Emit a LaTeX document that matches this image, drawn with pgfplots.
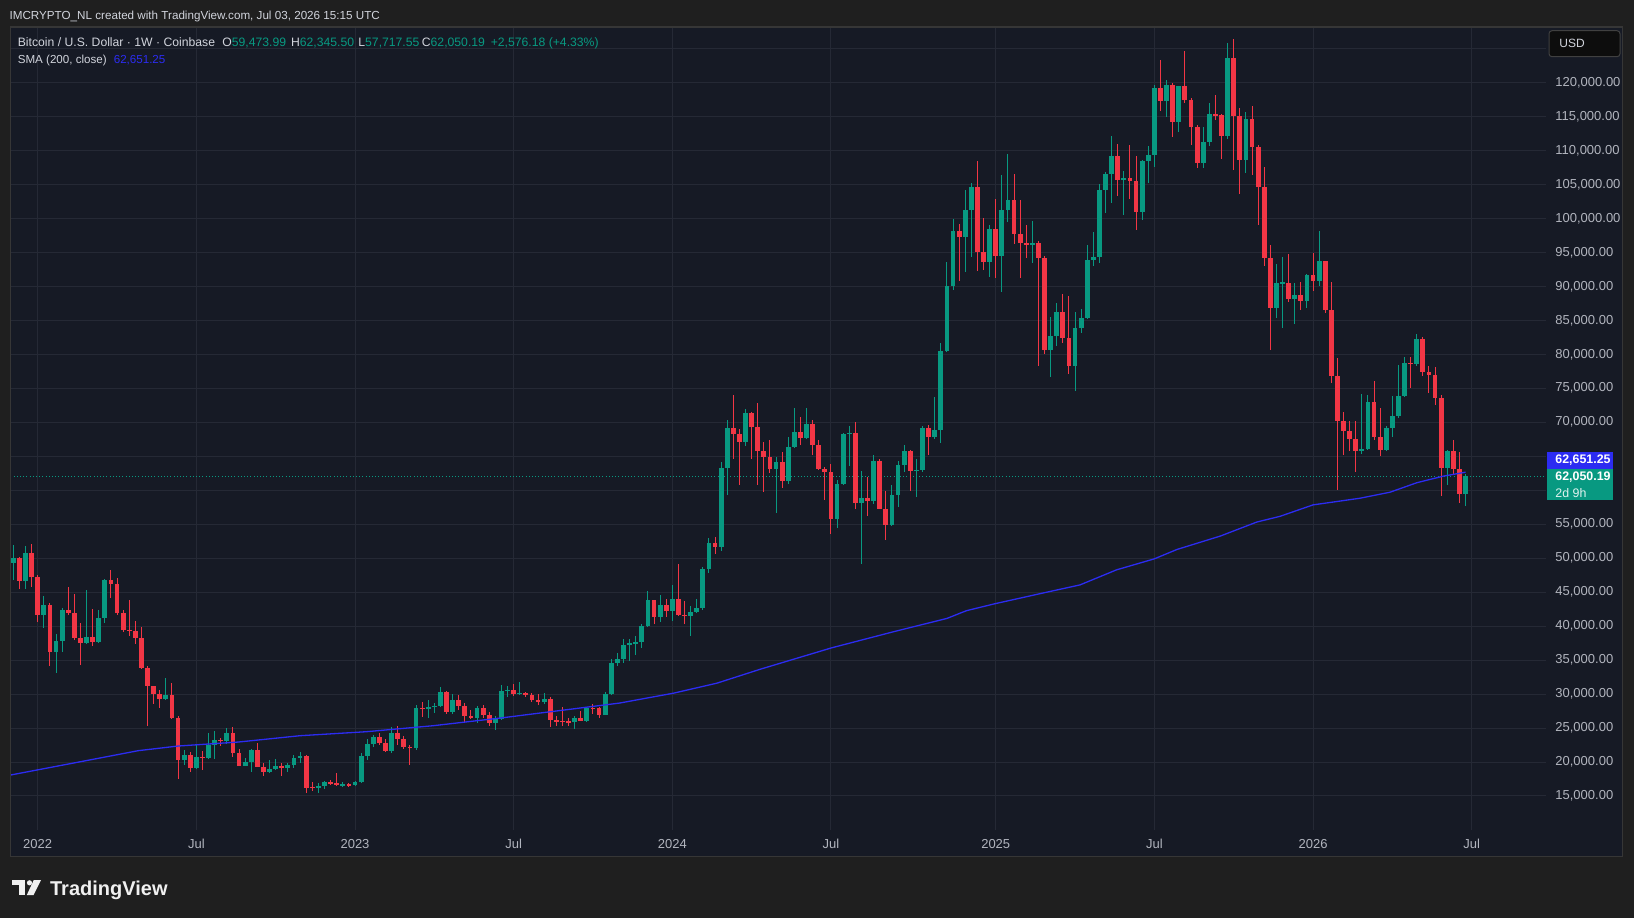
\documentclass[border=0pt]{standalone}
\usepackage{fontspec}
\setmainfont{Liberation Sans}
\usepackage{pgfplots}
\usepackage{pgfplotstable}
\pgfplotsset{compat=1.18}
\definecolor{outerbg}{HTML}{1F1F1F}
\definecolor{panebg}{HTML}{161A25}
\definecolor{gridc}{HTML}{252935}
\definecolor{paneborder}{HTML}{363636}
\definecolor{upc}{HTML}{089981}
\definecolor{downc}{HTML}{F23645}
\definecolor{tickc}{HTML}{B2B5BE}
\definecolor{legc}{HTML}{D1D4DC}
\definecolor{smac}{HTML}{2C2CF2}
\pgfplotstableread{
w o h l c
-4 49.36 51.96 46.8 50.05
-3 50.05 50.2 45.5 46.57
-2 46.57 51.8 45.5 50.78
-1 50.78 52.1 45.7 47.2
0 47.2 47.5 40.54 41.67
1 41.67 44.46 39.66 43.14
2 43.14 43.4 34.07 36.13
3 36.13 38.87 33.04 37.84
4 37.84 42.7 36.23 42.4
5 42.4 45.78 41.67 42.0
6 42.0 44.75 37.99 38.28
7 38.28 40.44 34.3 37.55
8 37.55 45.34 37.4 38.43
9 38.43 42.55 37.1 37.7
10 37.7 42.4 37.55 41.23
11 41.23 46.96 40.5 46.81
12 46.81 48.28 44.17 46.23
13 46.23 47.1 41.67 41.96
14 41.96 42.4 39.17 39.46
15 39.46 43.9 38.6 39.3
16 39.3 40.7 37.4 38.28
17 38.28 39.9 33.7 33.87
18 33.87 34.07 25.34 31.13
19 31.13 31.2 28.58 30.05
20 30.05 30.6 28.0 29.3
21 29.3 32.4 29.17 29.9
22 29.9 31.67 26.37 26.45
23 26.45 26.8 17.55 20.34
24 20.34 21.8 19.6 21.08
25 21.08 21.5 18.6 19.17
26 19.17 22.55 19.0 20.8
27 20.8 21.67 18.87 20.64
28 20.64 24.3 20.5 22.55
29 22.55 24.6 20.5 23.3
30 23.3 23.6 22.4 23.14
31 23.14 25.05 22.7 24.3
32 24.3 25.2 20.78 21.37
33 21.37 21.96 19.4 19.46
34 19.46 20.64 19.4 20.05
35 20.05 21.9 18.58 21.8
36 21.8 22.84 19.25 19.3
37 19.3 19.9 18.0 18.58
38 18.58 20.34 18.43 19.02
39 19.02 20.5 18.87 19.46
40 19.46 19.9 18.0 19.17
41 19.17 19.9 18.58 19.6
42 19.6 21.08 19.17 20.64
43 20.64 21.5 19.9 20.93
44 20.93 21.08 15.5 16.13
45 16.3 17.1 15.8 16.2
46 16.2 16.9 15.5 16.47
47 16.47 17.25 15.98 17.1
48 17.1 17.4 16.6 16.86
49 16.95 18.43 16.47 16.57
50 16.57 17.1 16.3 16.75
51 16.75 16.96 16.37 16.57
52 16.57 17.15 16.5 17.1
53 17.1 21.3 16.9 20.93
54 20.93 23.43 20.34 22.7
55 22.7 24.0 22.25 23.73
56 23.73 24.3 22.55 22.84
57 22.84 23.43 21.5 21.67
58 21.67 25.2 21.37 24.3
59 24.3 25.34 22.55 23.43
60 23.43 23.87 21.96 22.25
61 22.25 22.55 19.6 22.1
62 22.1 28.43 21.8 27.99
63 27.99 28.87 26.67 27.8
64 27.8 29.17 26.5 28.1
65 28.1 28.7 27.25 28.28
66 28.28 31.08 28.14 30.34
67 30.34 30.5 27.1 27.4
68 27.4 30.05 27.0 29.17
69 29.17 29.9 27.7 28.28
70 28.28 28.7 25.8 26.8
71 26.8 27.7 26.37 26.52
72 26.52 28.28 25.8 27.99
73 27.99 28.43 26.52 26.96
74 26.96 27.4 25.34 25.78
75 25.78 26.8 24.75 26.37
76 26.37 31.37 26.2 30.5
77 30.5 31.2 29.5 30.64
78 30.64 31.5 29.75 30.05
79 30.05 31.8 29.9 30.2
80 30.2 30.34 29.6 29.9
81 29.9 30.15 28.87 29.17
82 29.17 30.05 28.43 28.87
83 28.87 30.2 28.58 29.3
84 29.3 29.6 25.2 26.13
85 26.13 26.8 25.34 26.05
86 26.05 28.14 25.34 25.95
87 25.95 26.5 25.34 25.85
88 25.85 26.8 24.9 26.52
89 26.52 27.55 26.0 26.08
90 26.08 28.14 25.93 27.99
91 27.99 28.58 27.1 27.9
92 27.9 28.14 26.52 26.96
93 26.96 30.34 26.9 30.05
94 30.05 35.2 29.9 34.5
95 34.5 36.0 34.1 35.1
96 35.1 38.08 34.55 37.2
97 37.2 38.08 34.85 37.5
98 37.5 38.5 35.7 37.6
99 37.6 40.29 36.76 40.0
100 40.0 45.15 39.85 43.83
101 43.83 43.9 40.29 41.32
102 41.32 44.56 40.59 43.1
103 43.1 43.98 41.32 42.2
104 42.2 46.04 40.74 43.98
105 43.98 49.13 41.47 41.62
106 41.62 43.68 40.29 41.55
107 41.55 42.94 38.52 42.06
108 42.06 43.98 41.91 42.65
109 42.65 48.7 42.35 48.4
110 48.4 52.96 47.8 52.2
111 52.2 53.1 50.6 51.6
112 51.6 64.15 51.0 63.2
113 63.2 70.34 59.3 69.17
114 69.17 74.0 64.6 68.28
115 68.28 69.0 60.7 67.1
116 67.1 71.96 66.5 71.37
117 71.37 71.5 64.6 69.3
118 69.3 72.84 60.8 65.78
119 65.78 67.1 59.7 64.95
120 64.95 67.4 62.55 63.14
121 63.14 64.9 56.67 64.17
122 64.17 65.64 60.34 61.37
123 61.37 67.84 60.93 66.3
124 66.3 72.1 66.2 68.58
125 68.58 70.78 66.67 67.7
126 67.7 72.1 67.6 69.75
127 69.75 70.34 65.2 66.67
128 66.67 67.4 63.0 63.14
129 63.14 63.43 58.58 62.7
130 62.7 63.87 53.58 55.78
131 55.78 61.52 54.46 60.9
132 60.9 68.43 60.78 68.28
133 68.28 69.46 63.58 68.43
134 68.43 70.05 57.26 58.14
135 58.14 62.84 49.17 58.87
136 58.87 61.96 56.2 58.43
137 58.43 65.2 57.99 64.3
138 64.3 64.6 57.2 57.3
139 57.3 59.9 52.7 54.9
140 54.9 60.8 54.75 59.3
141 59.3 64.3 57.55 63.73
142 63.73 66.67 62.7 65.8
143 65.8 65.9 59.9 62.84
144 62.84 64.6 59.0 63.0
145 63.0 69.46 62.7 69.17
146 69.17 69.6 65.2 67.84
147 67.84 73.7 67.55 68.8
148 68.8 81.67 66.96 80.45
149 80.45 93.58 80.34 90.05
150 90.05 99.9 89.46 98.14
151 98.14 99.17 90.78 97.26
152 97.26 104.17 92.1 101.2
153 101.2 105.2 94.3 104.6
154 104.6 108.43 92.25 95.05
155 95.05 100.05 92.4 93.58
156 93.58 99.0 91.37 98.43
157 98.43 102.84 91.2 94.46
158 94.46 106.37 89.17 101.3
159 101.3 109.46 99.46 102.7
160 102.7 106.52 96.2 97.7
161 97.7 102.7 91.2 96.37
162 96.37 99.0 94.17 96.08
163 96.08 99.6 93.43 96.35
164 96.35 96.67 78.28 94.17
165 94.17 94.46 80.05 80.64
166 80.64 85.5 76.67 82.7
167 82.7 87.55 81.23 86.23
168 86.23 88.87 81.67 82.4
169 82.4 88.58 77.1 78.28
170 78.28 86.23 74.6 83.87
171 83.87 86.67 83.14 85.34
172 85.34 96.08 85.2 93.87
173 93.87 98.0 93.0 94.3
174 94.3 105.05 93.43 104.17
175 104.17 106.8 100.78 106.52
176 106.52 112.1 102.25 109.17
177 109.17 110.93 103.28 105.64
178 105.64 106.96 100.5 105.9
179 105.9 110.78 102.84 105.5
180 105.5 109.17 98.28 100.93
181 100.93 108.58 99.75 108.43
182 108.43 110.64 105.2 109.3
183 109.3 119.6 107.55 119.17
184 119.17 123.28 115.78 117.26
185 117.26 120.34 114.9 119.6
186 119.6 119.9 111.96 114.17
187 114.17 119.55 112.7 119.46
188 119.46 124.6 116.96 117.4
189 117.4 117.7 110.78 113.43
190 113.43 113.73 107.4 108.14
191 108.14 113.43 107.4 111.23
192 111.23 116.96 110.64 115.34
193 115.34 118.14 114.46 115.2
194 115.2 115.34 108.73 112.1
195 112.1 125.8 111.67 123.58
196 123.58 126.37 107.1 115.05
197 115.05 116.23 103.58 108.58
198 108.58 115.64 106.67 114.6
199 114.6 116.52 106.37 110.49
200 110.49 110.78 99.0 104.6
201 104.6 107.55 92.99 94.17
202 94.17 96.08 80.64 86.8
203 86.8 93.28 85.34 90.49
204 90.45 94.3 83.87 90.55
205 90.55 94.75 87.7 88.14
206 88.14 90.49 84.46 88.73
207 88.73 90.64 86.52 87.84
208 87.84 91.8 86.8 91.67
209 91.67 94.9 89.3 90.78
210 90.78 98.14 90.05 93.73
211 93.73 93.8 86.08 86.52
212 86.52 90.64 75.78 76.8
213 76.8 79.46 60.05 70.2
214 70.2 71.52 65.2 68.73
215 68.73 70.2 65.78 67.55
216 67.55 70.2 62.7 65.78
217 65.78 74.17 65.34 66.1
218 66.1 74.02 65.93 72.99
219 72.99 76.08 67.4 67.84
220 67.84 72.1 65.05 65.93
221 65.93 69.46 65.78 69.17
222 69.17 73.87 67.84 70.93
223 70.93 78.43 70.64 73.87
224 73.87 79.6 73.73 78.73
225 78.73 79.6 75.05 78.6
226 78.6 82.99 78.28 82.25
227 82.25 82.55 76.8 77.4
228 77.4 78.28 74.3 76.96
229 76.96 78.14 72.55 73.58
230 73.58 74.02 59.17 63.28
231 63.28 65.93 60.78 65.78
232 65.78 67.4 62.4 63.14
233 63.14 65.64 58.14 59.474
234 59.474 62.3455 57.7176 62.0502
}\candles
\begin{document}
\begin{tikzpicture}
\fill[outerbg] (0,0) rectangle (817pt,-459pt);
\fill[panebg] (5.2pt,-13.5pt) rectangle (811.25pt,-428.3pt);
\begin{axis}[
  at={(5.2pt,-13.5pt)}, anchor=north west,
  scale only axis, width=767.65pt, height=401.5pt,
  xmin=-4.474, xmax=247.13, ymin=9.99, ymax=128.17,
  axis line style={draw=none},
  major tick length=0pt, tick style={draw=none},
  xtick={0,26,52,78,104,130,157,183,209,235},
  xticklabels={2022,Jul,2023,Jul,2024,Jul,2025,Jul,2026,Jul},
  ytick={15,20,...,125},
  yticklabels={{15,000.00},{20,000.00},{25,000.00},{30,000.00},{35,000.00},{40,000.00},{45,000.00},{50,000.00},{55,000.00},{},{},{70,000.00},{75,000.00},{80,000.00},{85,000.00},{90,000.00},{95,000.00},{100,000.00},{105,000.00},{110,000.00},{115,000.00},{120,000.00},{}},
  yticklabel pos=right,
  grid=major, major grid style={draw=gridc, line width=0.5pt},
  tick label style={font=\fontsize{6.5}{7.5}\selectfont, text=tickc},
  xticklabel style={anchor=center, yshift=-7pt},
  yticklabel style={anchor=west, inner sep=0pt, xshift=4.65pt},
]
\addplot[forget plot, draw=upc, line width=0.5pt, dash pattern=on 0.5pt off 1.1pt] coordinates {(-4.474,62.0502) (247.13,62.0502)};
% wicks
\addplot[forget plot, draw=none, mark=none, error bars/.cd, y dir=both, y explicit, error mark=none, error bar style={draw=upc, line width=0.5pt}]
  table[x=w, y expr={\thisrow{c}>=\thisrow{o} ? (\thisrow{h}+\thisrow{l})/2 : nan}, y error expr={(\thisrow{h}-\thisrow{l})/2}] {\candles};
\addplot[forget plot, draw=none, mark=none, error bars/.cd, y dir=both, y explicit, error mark=none, error bar style={draw=downc, line width=0.5pt}]
  table[x=w, y expr={\thisrow{c}<\thisrow{o} ? (\thisrow{h}+\thisrow{l})/2 : nan}, y error expr={(\thisrow{h}-\thisrow{l})/2}] {\candles};
% bodies
\addplot[forget plot, draw=none, mark=none, error bars/.cd, y dir=both, y explicit, error mark=none, error bar style={draw=upc, line width=2.4pt}]
  table[x=w, y expr={\thisrow{c}>=\thisrow{o} ? (\thisrow{o}+\thisrow{c})/2 : nan}, y error expr={max(abs(\thisrow{c}-\thisrow{o})/2,0.07)}] {\candles};
\addplot[forget plot, draw=none, mark=none, error bars/.cd, y dir=both, y explicit, error mark=none, error bar style={draw=downc, line width=2.4pt}]
  table[x=w, y expr={\thisrow{c}<\thisrow{o} ? (\thisrow{o}+\thisrow{c})/2 : nan}, y error expr={max(abs(\thisrow{c}-\thisrow{o})/2,0.07)}] {\candles};
% SMA 200
\addplot[smac, line width=0.65pt, mark=none] coordinates {
(-4.47,18.08) (5.6,19.80) (16.5,21.67) (23,22.35) (32.9,22.94) (43,23.87) (53.9,24.46) (64.8,25.34) (75.8,26.47) (84.5,27.45) (95.4,28.68) (104.2,30.13) (111.3,31.6) (118.4,33.65) (130.1,36.8) (140.2,39.16) (149.0,41.13) (152.2,42.27) (156.9,43.3) (164.8,44.88) (170.8,46.06) (176.8,48.28) (183,49.9) (186.7,51.28) (193.8,53.25) (199.8,55.32) (203.6,56.16) (209.0,57.84) (216.7,58.82) (221.6,59.7) (226,61.1) (230.3,62.06) (234,62.65)};
\end{axis}
\draw[paneborder, line width=0.6pt] (5.2pt,-13.5pt) rectangle (811.25pt,-428.3pt);
% header
\node[anchor=base west, inner sep=0pt, text=legc, font=\fontsize{5.83}{7}\selectfont] at (4.6pt,-9.5pt) {IMCRYPTO\_NL created with TradingView.com, Jul 03, 2026 15:15 UTC};
\begin{scope}[every node/.style={anchor=base west, inner sep=0pt, font=\fontsize{6.1}{7}\selectfont}]
\node[text=legc] at (8.7pt,-23pt) {Bitcoin / U.S. Dollar · 1W · Coinbase};
\node[text=legc] at (111pt,-23pt) {O\textcolor{upc}{59,473.99}};
\node[text=legc] at (145.3pt,-23pt) {H\textcolor{upc}{62,345.50}};
\node[text=legc] at (179pt,-23pt) {L\textcolor{upc}{57,717.55}};
\node[text=legc] at (210.75pt,-23pt) {C\textcolor{upc}{62,050.19}};
\node[text=upc] at (245.2pt,-23pt) {+2,576.18 (+4.33\%)};
\node[text=legc, font=\fontsize{5.8}{7}\selectfont] at (8.7pt,-31.5pt) {SMA (200, close)};
\node[text=smac, font=\fontsize{5.8}{7}\selectfont] at (56.7pt,-31.5pt) {62,651.25};
\end{scope}
% USD box
\draw[fill=black!95, draw=white!25!black, line width=0.5pt, rounded corners=1.5pt] (774.5pt,-15.35pt) rectangle (810pt,-28.35pt);
\node[anchor=west, inner sep=0pt, text=legc, font=\fontsize{6}{7}\selectfont] at (779.5pt,-21.85pt) {USD};
% price labels
\fill[smac] (773.5pt,-226pt) rectangle (806.35pt,-234.35pt);
\node[anchor=west, inner sep=0pt, text=white, font=\bfseries\fontsize{6.2}{7}\selectfont] at (777.5pt,-230.2pt) {62,651.25};
\fill[upc] (773.5pt,-234.35pt) rectangle (806.35pt,-249.85pt);
\node[anchor=west, inner sep=0pt, text=white, font=\bfseries\fontsize{6.2}{7}\selectfont] at (777.5pt,-238.35pt) {62,050.19};
\node[anchor=west, inner sep=0pt, text=white!88!upc, font=\fontsize{6.2}{7}\selectfont] at (777.5pt,-246.35pt) {2d 9h};
% logo
\fill[white!94!black] (5.75pt,-440pt) rectangle (12.55pt,-442.6pt);
\fill[white!94!black] (9.4pt,-440pt) rectangle (12.55pt,-447.5pt);
\fill[white!94!black] (14.75pt,-441.4pt) circle (1.3pt);
\fill[white!94!black] (16.9pt,-440pt) -- (20.5pt,-440pt) -- (16.8pt,-447.5pt) -- (13.4pt,-447.5pt) -- cycle;
\node[anchor=base west, inner sep=0pt, text=white!94!black, font=\bfseries\fontsize{10}{12}\selectfont] at (24.85pt,-447.5pt) {TradingView};
\pgfresetboundingbox
\useasboundingbox (0,0) rectangle (817pt,-459pt);
\end{tikzpicture}
\end{document}
